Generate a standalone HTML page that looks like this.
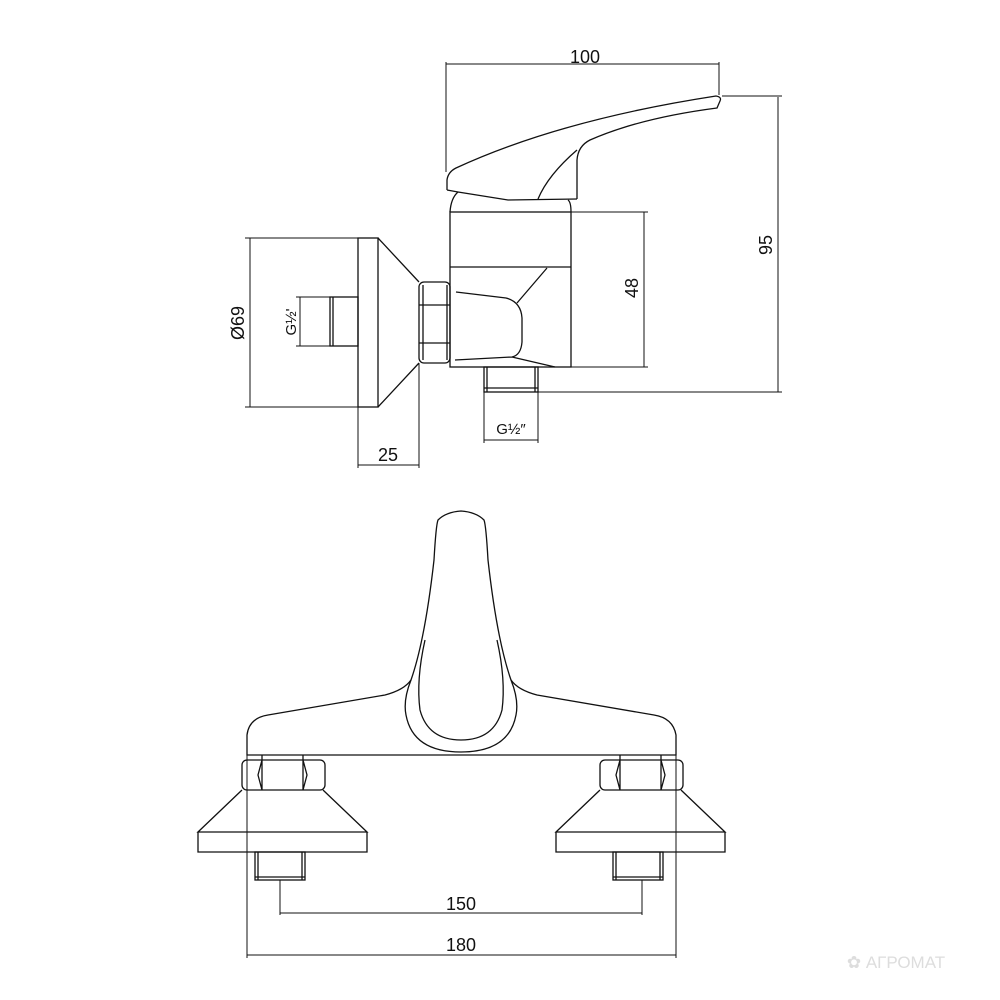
<!DOCTYPE html>
<html><head><meta charset="utf-8"><style>html,body{margin:0;background:#fff}svg{display:block}</style></head><body>
<svg width="1000" height="1000" viewBox="0 0 1000 1000" xmlns="http://www.w3.org/2000/svg">
<g fill="none" stroke="#111" stroke-width="1.3">
<!-- side view dimensions -->
<path d="M446 64H719M446 62V172M719 62V95" stroke-width="1"/>
<path d="M778 97V392M722 96H782M538 392H782" stroke-width="1"/>
<path d="M644 212V367M571 212H648M571 367H648" stroke-width="1"/>
<path d="M250 238V407M245 238H358M245 407H358" stroke-width="1"/>
<path d="M300 297V346M296 297H330M296 346H330" stroke-width="1"/>
<path d="M358 465H419M358 407V468M419 363V468" stroke-width="1"/>
<path d="M484 440H538M484 392V443M538 392V443" stroke-width="1"/>
<!-- handle -->
<path d="M447 190V180Q448 172 456 168Q560 120 716 96Q722 97 720 101L717 108Q640 118 590 140Q578 146 577 160V199"/>
<path d="M447 190L458 192L508 200L577 199"/>
<path d="M577 150Q548 175 538 199"/>
<!-- body -->
<path d="M450 212Q451 198 458 192M571 212Q571 202 568 200"/>
<rect x="450" y="212" width="121" height="155"/>
<path d="M450 267H571"/>
<path d="M547 268L517 303M456 292L506 298Q521 302 522 318V342Q521 355 512 357L455 360M512 357L555 367"/>
<!-- nut -->
<rect x="419" y="282" width="31" height="81" rx="5"/>
<path d="M419 305H450M419 343H450M423 285V360M447 285V360"/>
<!-- escutcheon -->
<rect x="358" y="238" width="20" height="169"/>
<path d="M378 238L419 282M378 407L419 363"/>
<rect x="330" y="297" width="28" height="49"/>
<path d="M333 297V346"/>
<!-- bottom outlet -->
<rect x="484" y="367" width="54" height="25"/>
<path d="M484 388H538M487 367V392M535 367V392"/>
<!-- front view -->
<path d="M247 755V735Q249 718 268 715L385 695Q404 690 411 680Q425 640 434 560Q436 525 438 520Q446 512 461 511Q476 512 484 520Q486 525 488 560Q497 640 511 680Q518 690 537 695L654 715Q673 718 676 735V755H247Z"/>
<path d="M411 680Q403 700 406 715Q413 752 461 752Q509 752 516 715Q519 700 511 680"/>
<path d="M425 640Q416 680 420 710Q428 740 461 740Q494 740 502 710Q506 680 497 640"/>
<!-- nuts -->
<g id="nl">
<rect x="242" y="760" width="83" height="30" rx="5"/>
<path d="M262 760V790M303 760V790M262 760L258 775L262 790M303 760L307 775L303 790M262 755V760M303 755V760"/>
<path d="M242 790L198 832H367L323 790M198 832V852H367V832"/>
<rect x="255" y="852" width="50" height="28"/>
<path d="M255 877H305M258 852V880M302 852V880"/>
</g>
<use href="#nl" transform="translate(358 0)"/>
<!-- front dims -->
<path d="M280 913H642M280 880V915M642 880V915" stroke-width="1"/>
<path d="M247 955H676M247 740V958M676 740V958" stroke-width="1"/>
</g>
<g font-family="Liberation Sans, sans-serif" font-size="18" fill="#111" text-anchor="middle">
<text x="585" y="63">100</text>
<text transform="translate(772 245) rotate(-90)">95</text>
<text transform="translate(638 288) rotate(-90)">48</text>
<text transform="translate(244 323) rotate(-90)">Ø69</text>
<text transform="translate(296 322) rotate(-90)" font-size="15">G½'</text>
<text x="388" y="461">25</text>
<text x="511" y="434" font-size="15">G½″</text>
<text x="461" y="910">150</text>
<text x="461" y="951">180</text>
</g>
<text x="896" y="968" font-family="Liberation Sans, sans-serif" font-size="17" fill="#ddd" text-anchor="middle">✿ АГРОМАТ</text>
</svg>
</body></html>
